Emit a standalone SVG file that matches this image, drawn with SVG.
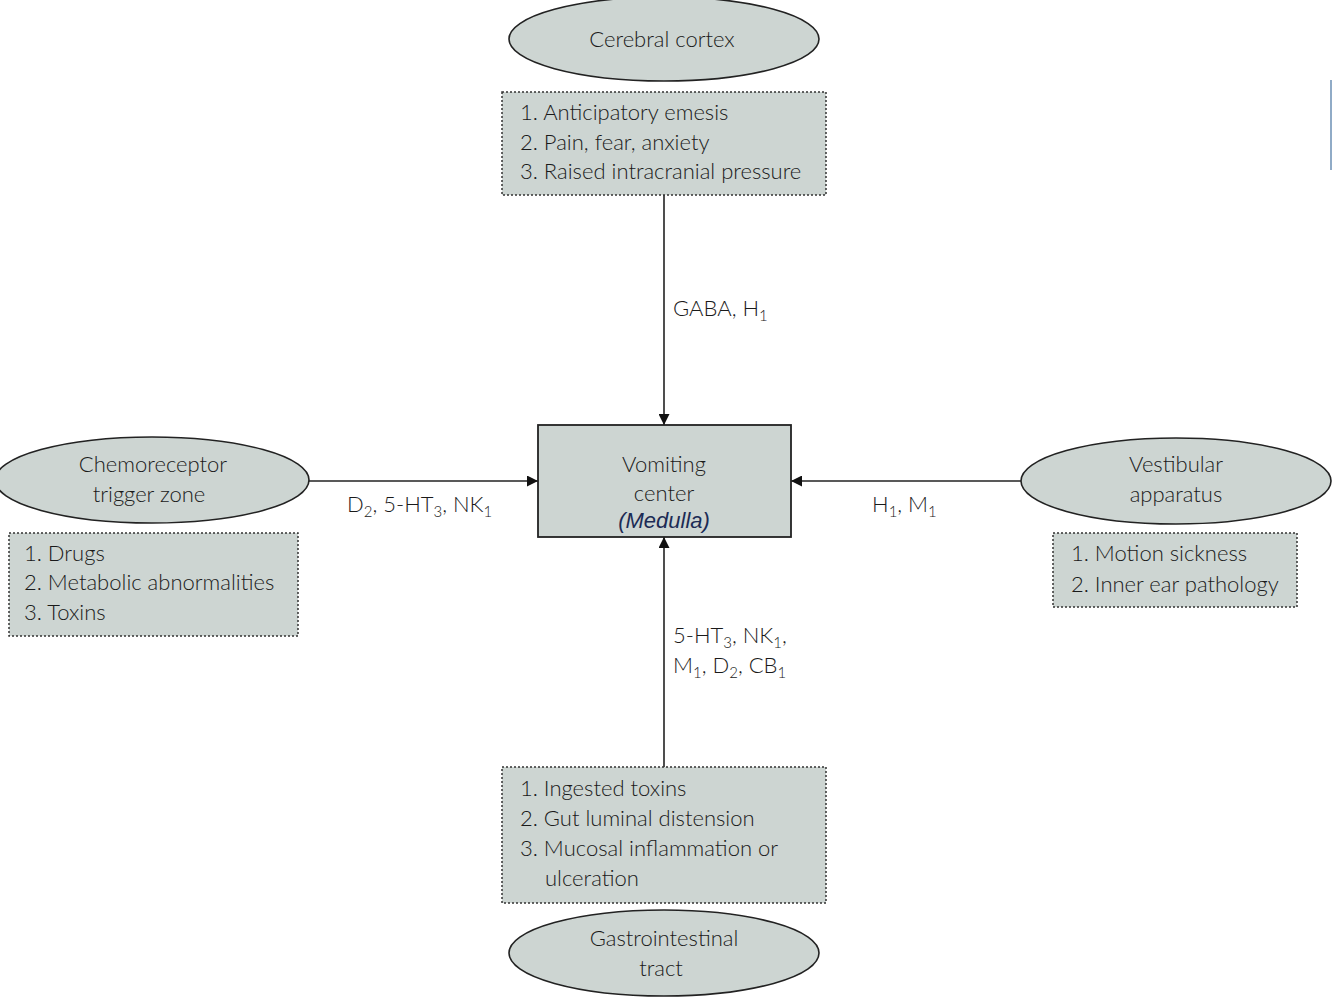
<svg xmlns="http://www.w3.org/2000/svg" width="1332" height="1002" viewBox="0 0 1332 1002">
<style>
.ell{fill:#cdd5d2;stroke:#222;stroke-width:1.6}
.box{fill:#cdd5d2;stroke:#333;stroke-width:1.5;stroke-dasharray:2 2}
.vc{fill:#cdd5d2;stroke:#222;stroke-width:1.8}
text{font-family:Lato,"Open Sans","Liberation Sans",sans-serif;font-size:22px;font-weight:300;fill:#1a1a1a}
.c{text-anchor:middle}
.med{font-style:italic;fill:#1c2b55;font-family:"Liberation Sans",Arial,sans-serif;font-size:22px;font-weight:400}
.con{stroke:#222;stroke-width:1.6;fill:none}
.sb{font-size:15px}
</style>
<defs>
<marker id="ah" viewBox="0 0 10 10" refX="10" refY="5" markerWidth="12" markerHeight="11" markerUnits="userSpaceOnUse" orient="auto">
<path d="M0,0 L10,5 L0,10 z" fill="#111"/>
</marker>
</defs>
<rect width="1332" height="1002" fill="#fff"/>
<line x1="1331" y1="80" x2="1331" y2="170" stroke="#6b8fb5" stroke-width="1.5"/>
<g id="connectors">
<line class="con" x1="664" y1="195" x2="664" y2="425" marker-end="url(#ah)"/>
<line class="con" x1="308" y1="481" x2="538" y2="481" marker-end="url(#ah)"/>
<line class="con" x1="1021" y1="481" x2="791" y2="481" marker-end="url(#ah)"/>
<line class="con" x1="664" y1="767" x2="664" y2="537" marker-end="url(#ah)"/>
<text x="673" y="316">GABA, H<tspan class="sb" dy="5">1</tspan></text>
<text x="347" y="512">D<tspan class="sb" dy="5">2</tspan><tspan dy="-5">, 5-HT</tspan><tspan class="sb" dy="5">3</tspan><tspan dy="-5">, NK</tspan><tspan class="sb" dy="5">1</tspan></text>
<text x="872" y="512">H<tspan class="sb" dy="5">1</tspan><tspan dy="-5">, M</tspan><tspan class="sb" dy="5">1</tspan></text>
<text x="673" y="643">5-HT<tspan class="sb" dy="5">3</tspan><tspan dy="-5">, NK</tspan><tspan class="sb" dy="5">1</tspan><tspan dy="-5">,</tspan></text>
<text x="673" y="673">M<tspan class="sb" dy="5">1</tspan><tspan dy="-5">, D</tspan><tspan class="sb" dy="5">2</tspan><tspan dy="-5">, CB</tspan><tspan class="sb" dy="5">1</tspan></text>
</g>
<g id="cerebral-cortex">
<ellipse class="ell" cx="664" cy="39" rx="155" ry="42"/>
<text class="c" x="662" y="47">Cerebral cortex</text>
</g>
<g id="cortex-causes">
<rect class="box" x="502" y="92" width="324" height="103"/>
<text x="520" y="120">1. Anticipatory emesis</text>
<text x="520" y="150">2. Pain, fear, anxiety</text>
<text x="520" y="179">3. Raised intracranial pressure</text>
</g>
<g id="vomiting-center">
<rect class="vc" x="538" y="425" width="253" height="112"/>
<text class="c" x="664" y="472">Vomiting</text>
<text class="c" x="664" y="501">center</text>
<text class="c med" x="664" y="528">(Medulla)</text>
</g>
<g id="ctz">
<ellipse class="ell" cx="152" cy="480" rx="157" ry="43"/>
<text class="c" x="153" y="472">Chemoreceptor</text>
<text class="c" x="149" y="502">trigger zone</text>
</g>
<g id="ctz-causes">
<rect class="box" x="9" y="533" width="289" height="103"/>
<text x="24" y="561">1. Drugs</text>
<text x="24" y="590">2. Metabolic abnormalities</text>
<text x="24" y="620">3. Toxins</text>
</g>
<g id="vestibular">
<ellipse class="ell" cx="1176" cy="481" rx="155" ry="43"/>
<text class="c" x="1176" y="472">Vestibular</text>
<text class="c" x="1176" y="502">apparatus</text>
</g>
<g id="vestibular-causes">
<rect class="box" x="1053" y="533" width="244" height="74"/>
<text x="1071" y="561">1. Motion sickness</text>
<text x="1071" y="592">2. Inner ear pathology</text>
</g>
<g id="gi-causes">
<rect class="box" x="502" y="767" width="324" height="136"/>
<text x="520" y="796">1. Ingested toxins</text>
<text x="520" y="826">2. Gut luminal distension</text>
<text x="520" y="856">3. Mucosal inflammation or</text>
<text x="545" y="886">ulceration</text>
</g>
<g id="gi-tract">
<ellipse class="ell" cx="664" cy="953" rx="155" ry="43"/>
<text class="c" x="664" y="946">Gastrointestinal</text>
<text class="c" x="661" y="976">tract</text>
</g>
</svg>
